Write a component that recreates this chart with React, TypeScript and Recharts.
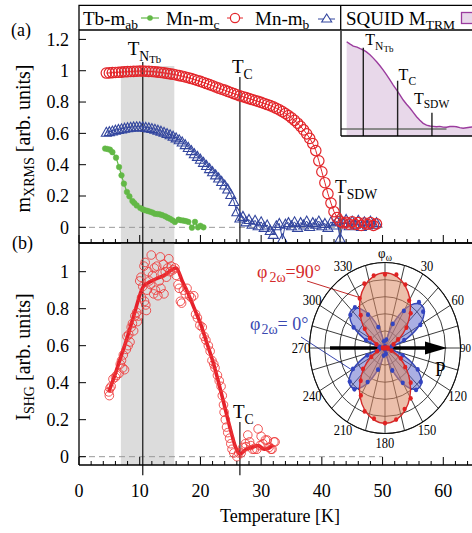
import React from 'react';
import {
  ComposedChart, Line, Scatter, XAxis, YAxis, ReferenceLine, ReferenceArea, Legend, Customized,
  AreaChart, Area, RadarChart, Radar, PolarGrid, PolarAngleAxis, PolarRadiusAxis,
} from 'recharts';

const FONT = '"Liberation Serif", "Times New Roman", Times, serif';
const RED = '#e3262b';
const RED_LIGHT = '#ee3a3a';
const BLUE = '#33469e';
const GREEN = '#62b846';
const PURPLE = '#9b3c9e';
const PURPLE_FILL = '#e8d8ea';
const SHADE = '#dcdcdc';
const FRAME = { stroke: '#000', strokeWidth: 1.3 };

// ---------- axis ticks ----------
const edgeTicks = [0, 2, 4, 6, 8, 10, 12, 14, 16, 18, 20, 22, 24, 26, 28, 30, 32, 34, 36, 38, 40, 42, 44, 46, 48, 50, 52, 54, 56, 58, 60, 62, 64, 66, 68, 70];
const tempLabelTicks = [0, 10, 20, 30, 40, 50, 60];
const xrmsYTicks = [0, 0.2, 0.4, 0.6, 0.8, 1, 1.2];
const shgYTicks = [0, 0.2, 0.4, 0.6, 0.8, 1];

// ---------- panel (a): XRMS ----------
const xrmsTemps = [
  4.5, 5, 5.5, 6, 6.5, 7, 7.5, 8, 8.5, 9, 9.5, 10, 10.5, 11, 11.5, 12, 12.5, 13, 13.5, 14,
  14.5, 15, 15.5, 16, 16.5, 17, 17.5, 18, 18.5, 19, 19.5, 20, 20.5, 21, 21.5, 22, 22.5, 23, 23.5, 24,
  24.5, 25, 25.5, 26, 26.5, 27, 27.5, 28, 28.5, 29, 29.5, 30, 30.5, 31, 31.5, 32, 32.5, 33, 33.5, 34,
  34.5, 35, 35.5, 36, 36.5, 37, 37.5, 38, 38.5, 39, 39.5, 40, 40.5, 41, 41.5, 42, 42.5, 43, 43.5, 44,
  44.5, 45, 45.5, 46, 46.5, 47, 47.5, 48, 48.5, 49,
];
const mnMcValues = [
  0.985, 0.986, 0.988, 0.989, 0.990, 0.991, 0.993, 0.994, 0.995, 0.996, 0.997, 0.998, 0.998, 0.997, 0.996, 0.995, 0.993, 0.991, 0.989, 0.986,
  0.983, 0.980, 0.977, 0.973, 0.969, 0.965, 0.960, 0.955, 0.950, 0.944, 0.938, 0.932, 0.925, 0.918, 0.911, 0.904, 0.896, 0.889, 0.882, 0.876,
  0.868, 0.861, 0.854, 0.847, 0.840, 0.834, 0.828, 0.822, 0.816, 0.810, 0.804, 0.798, 0.791, 0.784, 0.777, 0.769, 0.760, 0.750, 0.739, 0.727,
  0.714, 0.699, 0.683, 0.665, 0.645, 0.622, 0.597, 0.568, 0.535, 0.490, 0.425, 0.355, 0.285, 0.215, 0.155, 0.100, 0.062, 0.038, 0.028, 0.032,
  0.020, 0.035, 0.018, 0.030, 0.012, 0.028, 0.020, 0.030, 0.012, 0.022,
];
const mnMbValues = [
  0.607, 0.611, 0.615, 0.620, 0.625, 0.629, 0.633, 0.636, 0.639, 0.641, 0.642, 0.642, 0.641, 0.638, 0.635, 0.631, 0.626, 0.620, 0.614, 0.607,
  0.599, 0.591, 0.582, 0.571, 0.559, 0.545, 0.528, 0.510, 0.490, 0.470, 0.453, 0.435, 0.415, 0.395, 0.375, 0.355, 0.335, 0.315, 0.293, 0.270,
  0.245, 0.210, 0.165, 0.100, 0.060, 0.070, 0.035, 0.050, 0.020, 0.045, 0.010, 0.035, 0.000, 0.015, -0.020, -0.045, 0.010, 0.025, -0.075, 0.020,
  0.030, 0.010, 0.035, 0.000, 0.030, 0.015, 0.040, 0.005, 0.030, 0.020, 0.040, 0.010, 0.025, 0.000, 0.035, 0.015, 0.040, -0.070, 0.030, 0.050,
  0.010, 0.040, 0.020, 0.045, 0.005, 0.035, 0.015, 0.040, 0.020, 0.030,
];
const tbTemps = [4.3, 4.7, 5.1, 5.5, 6.1, 6.6, 7.0, 7.4, 7.9, 8.3, 8.8, 9.1, 9.5, 10.1, 10.5, 10.9, 11.3, 11.7, 12.1, 12.5, 12.9, 13.3, 13.7, 14.2, 14.6, 15.0, 15.4, 15.8, 16.4, 16.8, 17.2, 17.6, 18.0, 18.6, 19.1, 19.6, 20.0, 20.5];
const tbValues = [0.503, 0.500, 0.496, 0.480, 0.445, 0.385, 0.332, 0.279, 0.226, 0.198, 0.168, 0.155, 0.140, 0.123, 0.115, 0.109, 0.105, 0.100, 0.095, 0.087, 0.085, 0.083, 0.078, 0.070, 0.062, 0.055, 0.045, 0.034, 0.049, 0.045, 0.043, 0.040, 0.035, -0.002, 0.035, 0.000, 0.010, 0.000];

// ---------- SQUID inset ----------
const squidTemps = [2, 3.5, 5.2, 7, 8.5, 10, 11.5, 13.2, 14.8, 16.4, 18, 19.6, 21.2, 22.8, 24.4, 26, 27.6, 29.2, 30.8, 32.5, 34, 35.6, 37.2, 38.8, 40.4, 42, 43.6, 45.2, 46.8, 48.4, 50, 51.6, 53.2, 54.8, 56.4, 58, 59.6, 61.2, 63, 65, 67, 69];
const squidValues = [1.0, 0.975, 0.95, 0.937, 0.92, 0.905, 0.883, 0.85, 0.812, 0.77, 0.724, 0.675, 0.62, 0.562, 0.503, 0.447, 0.39, 0.332, 0.283, 0.237, 0.19, 0.141, 0.1, 0.065, 0.045, 0.034, 0.03, 0.026, 0.03, 0.022, 0.02, 0.028, 0.03, 0.026, 0.015, 0.008, 0.015, 0.02, 0.025, 0.022, 0.018, 0.02];

// ---------- panel (b): SHG ----------
const shgTemps = [
  4.9, 5.0, 5.1, 5.3, 5.6, 6.0, 6.2, 6.6, 6.8, 7.0, 7.2, 7.5, 7.3, 7.8, 8.1, 7.9, 8.2, 8.4, 8.6, 8.8, 9.0, 9.2, 9.5, 9.8, 9.6,
  10.0, 10.2, 10.3, 10.5, 10.7, 10.9, 10.8, 11.0, 11.1, 11.2, 11.4, 11.6, 11.8, 11.9, 12.1, 12.3, 12.4, 12.6, 12.8, 13.0, 13.2, 13.4, 13.5, 13.7, 13.9, 14.0, 14.2, 14.4, 14.6, 14.8, 15.0, 15.2, 15.5, 15.8, 16.0,
  16.3, 16.5, 16.7, 16.9, 17.2, 17.5, 17.8, 18.2, 18.5, 18.9, 19.2, 19.5, 19.9, 20.3, 20.6, 20.9, 21.3, 21.6, 21.9, 22.2, 22.4, 22.8, 23.1, 23.4, 23.6, 23.8, 23.9, 24.1, 24.3, 24.5, 24.8, 25.0, 25.2, 25.5,
  26.0, 26.3, 26.7, 27.0, 27.4, 27.5, 27.8, 28.1, 28.3, 28.6, 28.9, 29.3, 29.5, 29.8, 30.0, 30.3, 30.7, 31.0, 31.3, 31.6, 31.8, 32.1, 32.3,
];
const shgValues = [
  0.35, 0.33, 0.37, 0.38, 0.42, 0.43, 0.44, 0.45, 0.50, 0.52, 0.48, 0.47, 0.55, 0.58, 0.60, 0.65, 0.66, 0.62, 0.70, 0.72, 0.68, 0.76, 0.78, 0.76, 0.73,
  0.95, 0.97, 0.86, 0.92, 1.03, 1.05, 0.84, 0.82, 0.79, 0.90, 1.00, 0.95, 0.93, 1.09, 0.98, 0.88, 1.02, 0.90, 1.03, 0.87, 0.95, 1.08, 0.91, 0.99, 1.04, 0.88, 1.00, 0.97, 1.02, 1.07, 1.00, 1.03, 1.01, 1.02, 0.98,
  0.93, 0.91, 0.84, 0.83, 0.90, 0.88, 0.91, 0.87, 0.86, 0.87, 0.77, 0.75, 0.71, 0.70, 0.65, 0.63, 0.60, 0.57, 0.52, 0.50, 0.48, 0.44, 0.41, 0.38, 0.33, 0.28, 0.24, 0.20, 0.16, 0.13, 0.10, 0.07, 0.04, 0.02,
  0.00, 0.02, 0.02, 0.05, 0.07, 0.054, 0.117, 0.08, 0.06, 0.04, 0.04, 0.04, 0.15, 0.06, 0.11, 0.07, 0.09, 0.09, 0.05, 0.04, 0.04, 0.08, 0.08,
];
const fitTemps = [4.9, 6, 7, 8, 9, 10.6, 12, 14, 16, 17, 18, 19, 20, 21, 22, 23, 24, 25, 25.7, 26.5, 27.5, 28.5, 29.5, 30.5, 31.2, 32];
const fitValues = [0.35, 0.45, 0.55, 0.65, 0.76, 0.92, 0.95, 0.98, 1.02, 0.95, 0.88, 0.80, 0.72, 0.62, 0.52, 0.40, 0.27, 0.14, 0.06, 0.015, 0.04, 0.05, 0.06, 0.04, 0.045, 0.065];

// ---------- polar inset ----------
const polarAngles = [0, 10, 20, 30, 40, 50, 60, 70, 80, 90, 100, 110, 120, 130, 140, 150, 160, 170, 180, 190, 200, 210, 220, 230, 240, 250, 260, 270, 280, 290, 300, 310, 320, 330, 340, 350];
const redLobe = [0.88, 0.853, 0.777, 0.66, 0.516, 0.364, 0.22, 0.103, 0.027, 0, 0.027, 0.103, 0.22, 0.364, 0.516, 0.66, 0.777, 0.853, 0.88, 0.853, 0.777, 0.66, 0.516, 0.364, 0.22, 0.103, 0.027, 0, 0.027, 0.103, 0.22, 0.364, 0.516, 0.66, 0.777, 0.853];
const blueLobe = [0, 0.082, 0.289, 0.525, 0.679, 0.679, 0.525, 0.289, 0.082, 0, 0.076, 0.268, 0.488, 0.631, 0.631, 0.488, 0.268, 0.076, 0, 0.075, 0.264, 0.48, 0.621, 0.621, 0.48, 0.264, 0.075, 0, 0.074, 0.26, 0.473, 0.611, 0.611, 0.473, 0.26, 0.074];
const redPts = [0.86, 0.87, 0.79, 0.64, 0.53, 0.37, 0.20, 0.12, 0.03, 0.01, 0.04, 0.09, 0.24, 0.35, 0.53, 0.68, 0.76, 0.85, 0.88, 0.84, 0.79, 0.64, 0.50, 0.38, 0.21, 0.11, 0.02, 0, 0.03, 0.12, 0.23, 0.35, 0.50, 0.67, 0.80, 0.86];
const bluePts = [0.02, 0.10, 0.30, 0.50, 0.70, 0.66, 0.54, 0.27, 0.09, 0.01, 0.07, 0.25, 0.50, 0.62, 0.64, 0.47, 0.28, 0.07, 0.02, 0.09, 0.27, 0.46, 0.63, 0.61, 0.49, 0.25, 0.08, 0.01, 0.07, 0.27, 0.48, 0.60, 0.62, 0.45, 0.26, 0.08];
const spokeAngles = [0, 15, 30, 45, 60, 75, 90, 105, 120, 135, 150, 165, 180, 195, 210, 225, 240, 255, 270, 285, 300, 315, 330, 345];
const ringRadii = [15.1, 30.2, 45.3, 60.4, 75.5];

// ---------- assembled tables ----------
const mcData = xrmsTemps.map((t, i) => ({ t, v: mnMcValues[i] }));
const mbData = xrmsTemps.map((t, i) => ({ t, v: mnMbValues[i] }));
const tbData = tbTemps.map((t, i) => ({ t, v: tbValues[i] }));
const squidData = squidTemps.map((t, i) => ({ t, v: squidValues[i] }));
const shgData = shgTemps.map((t, i) => ({ t, v: shgValues[i] }));
const fitData = fitTemps.map((t, i) => ({ t, v: fitValues[i] }));
const polarData = polarAngles.map((a, i) => ({ angle: a, red: redLobe[i], blue: blueLobe[i], redPt: redPts[i], bluePt: bluePts[i] }));

// ---------- helpers ----------
const fmtTick = (v: number) => (v === 0 ? '0' : v === 1 ? '1' : v.toFixed(1));

const edgeTick = (dir: number, withLabels = false) => (p: any) => {
  const v = p.payload ? p.payload.value : 0;
  const major = Math.abs(v % 10) < 1e-6;
  const len = major ? 8 : 4;
  const showLabel = withLabels && tempLabelTicks.indexOf(v) >= 0;
  return (
    <g>
      <line x1={p.x} x2={p.x} y1={p.y} y2={p.y + dir * len} stroke="#000" strokeWidth={1} />
      {showLabel ? (
        <text x={p.x} y={p.y + 32} textAnchor="middle" fontFamily={FONT} fontSize={18} fill="#000">{v}</text>
      ) : null}
    </g>
  );
};

const leftTick = (p: any) => {
  const v = p.payload ? p.payload.value : 0;
  return (
    <g>
      <line x1={p.x + 10} x2={p.x + 17} y1={p.y} y2={p.y} stroke="#000" strokeWidth={1} />
      <text x={p.x} y={p.y} dy="0.35em" textAnchor="end" fontFamily={FONT} fontSize={18} fill="#000">{fmtTick(v)}</text>
    </g>
  );
};

function TText({ x, y, sub, subsub, size }: any) {
  return (
    <text x={x} y={y} fontFamily={FONT} fontSize={size} fill="#000">
      T<tspan fontSize={size * 0.72} dy={size * 0.3}>{sub}</tspan>
      {subsub ? <tspan fontSize={size * 0.56} dy={size * 0.14}>{subsub}</tspan> : null}
    </text>
  );
}

const tLabel = (dx: number, dy: number, sub: string, subsub: string | undefined, size: number) => (p: any) => {
  const vb = (p && p.viewBox) || {};
  return <TText x={(vb.x || 0) + dx} y={(vb.y || 0) + dy} sub={sub} subsub={subsub} size={size} />;
};

const triDot = (p: any) => {
  const { cx, cy, index } = p;
  if (cx == null || cy == null) return <g key={'t' + index} />;
  const s = 5;
  return (
    <path key={'t' + index} d={`M${cx},${cy - s} L${cx + s},${cy + s * 0.8} L${cx - s},${cy + s * 0.8} Z`}
      fill="none" stroke={BLUE} strokeWidth={1.1} />
  );
};

const LegendBox = () => (
  <svg width={510} height={32} style={{ display: 'block' }}>
    <path d="M79,30 L79,5.3 L510,5.3" fill="none" stroke="#000" strokeWidth={1.3} />
    <line x1={340.7} y1={5.3} x2={340.7} y2={30} stroke="#000" strokeWidth={1.3} />
    <text x={83} y={25} fontFamily={FONT} fontSize={19} fill="#000">Tb-m<tspan fontSize={13.5} dy={4}>ab</tspan></text>
    <line x1={141} y1={18} x2={159} y2={18} stroke={GREEN} strokeWidth={1.2} />
    <circle cx={150} cy={18} r={2.8} fill={GREEN} />
    <text x={166} y={25} fontFamily={FONT} fontSize={19} fill="#000">Mn-m<tspan fontSize={13.5} dy={4}>c</tspan></text>
    <line x1={227} y1={18} x2={243} y2={18} stroke={RED} strokeWidth={1} />
    <circle cx={235} cy={18} r={4.6} fill="#fff" stroke={RED} strokeWidth={1.2} />
    <text x={255} y={25} fontFamily={FONT} fontSize={19} fill="#000">Mn-m<tspan fontSize={13.5} dy={4}>b</tspan></text>
    <line x1={318} y1={19} x2={335} y2={19} stroke={BLUE} strokeWidth={1} />
    <path d="M326.7,14 L331.7,22 L321.7,22 Z" fill="#fff" stroke={BLUE} strokeWidth={1.1} />
    <text x={346} y={25} fontFamily={FONT} fontSize={19} fill="#000">SQUID M<tspan fontSize={13.5} dy={4}>TRM</tspan></text>
    <rect x={461.5} y={12.5} width={12} height={11} fill={PURPLE_FILL} stroke={PURPLE} strokeWidth={1.3} />
  </svg>
);

// ---------- panel (a) ----------
function TopPanel() {
  return (
    <ComposedChart width={510} height={533} margin={{ top: 30, right: 6, bottom: 290, left: 0 }}>
      <XAxis xAxisId="x" dataKey="t" type="number" domain={[0, 70]} allowDataOverflow ticks={edgeTicks} interval={0}
        orientation="bottom" mirror tickSize={0} tickMargin={0} tickLine={false} tick={edgeTick(-1)} axisLine={FRAME} />
      <XAxis xAxisId="xt" type="number" domain={[0, 70]} allowDataOverflow ticks={edgeTicks} interval={0}
        orientation="top" mirror tickSize={0} tickMargin={0} tickLine={false} tick={edgeTick(1)} axisLine={FRAME} />
      <YAxis yAxisId="y" type="number" domain={[-0.1, 1.26]} allowDataOverflow ticks={xrmsYTicks} interval={0} width={79}
        tickSize={0} tickMargin={10} tickLine={false} tick={leftTick} axisLine={FRAME} />
      <Legend verticalAlign="middle" align="center" layout="horizontal" content={LegendBox}
        wrapperStyle={{ position: 'absolute', left: 0, top: 0, width: 510, height: 32 }} />
      <ReferenceArea xAxisId="x" yAxisId="y" x1={6.9} x2={15.7} y1={-0.1} y2={1.03} fill={SHADE} fillOpacity={1} stroke="none" ifOverflow="visible" />
      <ReferenceLine xAxisId="x" yAxisId="y" segment={[{ x: 0, y: 0 }, { x: 50, y: 0 }]} stroke="#999" strokeDasharray="6 4" strokeWidth={1} ifOverflow="visible" />
      <ReferenceLine xAxisId="x" yAxisId="y" segment={[{ x: 10.5, y: -0.1 }, { x: 10.5, y: 1.056 }]} stroke="#222" strokeWidth={1.3} ifOverflow="visible"
        label={tLabel(-15, -7, 'N', 'Tb', 19)} />
      <ReferenceLine xAxisId="x" yAxisId="y" segment={[{ x: 26.5, y: -0.1 }, { x: 26.5, y: 0.96 }]} stroke="#222" strokeWidth={1.3} ifOverflow="visible"
        label={tLabel(-8, -4, 'C', undefined, 19)} />
      <ReferenceLine xAxisId="x" yAxisId="y" segment={[{ x: 43, y: -0.1 }, { x: 43, y: 0.205 }]} stroke="#222" strokeWidth={1.3} ifOverflow="visible"
        label={tLabel(-5, -2, 'SDW', undefined, 19)} />
      <Line xAxisId="x" yAxisId="y" data={tbData} dataKey="v" type="linear" stroke={GREEN} strokeWidth={1.2}
        dot={{ r: 2.8, fill: GREEN, stroke: GREEN, strokeWidth: 0.5 }} activeDot={false} isAnimationActive={false} />
      <Line xAxisId="x" yAxisId="y" data={mbData} dataKey="v" type="linear" stroke={BLUE} strokeWidth={1}
        dot={triDot} activeDot={false} isAnimationActive={false} />
      <Line xAxisId="x" yAxisId="y" data={mcData} dataKey="v" type="linear" stroke={RED} strokeWidth={1}
        dot={{ r: 5.2, fill: 'none', stroke: RED, strokeWidth: 1.2 }} activeDot={false} isAnimationActive={false} />
      <Customized component={() => (
        <g>
          <text x={11} y={36} fontFamily={FONT} fontSize={18} fill="#000">(a)</text>
          <text transform="rotate(-90)" x={-138.5} y={30} textAnchor="middle" fontFamily={FONT} fontSize={20} fill="#000">
            m<tspan fontSize={14} dy={4}>XRMS</tspan><tspan dy={-4}> [arb. units]</tspan>
          </text>
        </g>
      )} />
    </ComposedChart>
  );
}

// ---------- panel (b) ----------
function BottomPanel() {
  return (
    <ComposedChart width={510} height={533} margin={{ top: 243, right: 6, bottom: 68, left: 0 }}>
      <XAxis xAxisId="x" dataKey="t" type="number" domain={[0, 70]} allowDataOverflow ticks={edgeTicks} interval={0}
        orientation="bottom" mirror tickSize={0} tickMargin={0} tickLine={false} tick={edgeTick(-1, true)} axisLine={FRAME} />
      <XAxis xAxisId="xt" type="number" domain={[0, 70]} allowDataOverflow ticks={edgeTicks} interval={0}
        orientation="top" mirror tickSize={0} tickMargin={0} tickLine={false} tick={edgeTick(1)} axisLine={FRAME} />
      <YAxis yAxisId="y" dataKey="v" type="number" domain={[-0.045, 1.155]} allowDataOverflow ticks={shgYTicks} interval={0} width={79}
        tickSize={0} tickMargin={10} tickLine={false} tick={leftTick} axisLine={FRAME} />
      <ReferenceArea xAxisId="x" yAxisId="y" x1={6.9} x2={15.7} y1={-0.045} y2={1.155} fill={SHADE} fillOpacity={1} stroke="none" ifOverflow="visible" />
      <ReferenceLine xAxisId="x" yAxisId="y" segment={[{ x: 0, y: 0 }, { x: 50, y: 0 }]} stroke="#999" strokeDasharray="6 4" strokeWidth={1} ifOverflow="visible" />
      <ReferenceLine xAxisId="x" yAxisId="y" segment={[{ x: 10.5, y: -0.1 }, { x: 10.5, y: 1.155 }]} stroke="#222" strokeWidth={1.3} ifOverflow="visible" />
      <ReferenceLine xAxisId="x" yAxisId="y" segment={[{ x: 26.5, y: -0.1 }, { x: 26.5, y: 0.188 }]} stroke="#222" strokeWidth={1.3} ifOverflow="visible"
        label={tLabel(-7, -4, 'C', undefined, 19)} />
      <Scatter xAxisId="x" yAxisId="y" data={shgData} dataKey="v" isAnimationActive={false}
        shape={(p: any) => <circle cx={p.cx} cy={p.cy} r={4.3} fill="none" stroke={RED_LIGHT} strokeOpacity={0.85} strokeWidth={1} />} />
      <Line xAxisId="x" yAxisId="y" data={fitData} dataKey="v" type="monotone" stroke="#e5202a" strokeWidth={3.6}
        dot={false} activeDot={false} isAnimationActive={false} />
      <Customized component={() => (
        <g>
          <text x={12} y={248.5} fontFamily={FONT} fontSize={18} fill="#000">(b)</text>
          <text transform="rotate(-90)" x={-357} y={30} textAnchor="middle" fontFamily={FONT} fontSize={20} fill="#000">
            I<tspan fontSize={14} dy={4}>SHG</tspan><tspan dy={-4}> [arb. units]</tspan>
          </text>
          <text x={280} y={522} textAnchor="middle" fontFamily={FONT} fontSize={18} fill="#000">Temperature [K]</text>
          <text x={257} y={278} fontFamily={FONT} fontSize={18} fill="#d42a2a">φ<tspan fontSize={14} dx={2} dy={4}>2ω</tspan><tspan dy={-4}>=90°</tspan></text>
          <line x1={307} y1={281} x2={361} y2={298} stroke="#c42a2a" strokeWidth={1} />
          <text x={250} y={330} fontFamily={FONT} fontSize={18} fill="#3a48b0">φ<tspan fontSize={14} dx={1} dy={4}>2ω</tspan><tspan dy={-4}>= 0°</tspan></text>
          <line x1={301} y1={337} x2={352} y2={370} stroke="#3a48b0" strokeWidth={1} />
        </g>
      )} />
    </ComposedChart>
  );
}

// ---------- SQUID inset ----------
function SquidInset() {
  return (
    <AreaChart width={170} height={106} data={squidData} margin={{ top: 0, right: 0, bottom: 1, left: 1 }}>
      <XAxis dataKey="t" type="number" domain={[-0.72, 80.53]} allowDataOverflow orientation="bottom" mirror
        tick={false} tickLine={false} axisLine={FRAME} />
      <YAxis type="number" domain={[-0.0802, 1.1226]} allowDataOverflow mirror tick={false} tickLine={false} axisLine={FRAME} />
      <Area dataKey="v" type="linear" stroke={PURPLE} strokeWidth={1.4} fill={PURPLE_FILL} fillOpacity={1}
        baseValue="dataMin" dot={false} activeDot={false} isAnimationActive={false} />
      <ReferenceLine segment={[{ x: -0.72, y: 0 }, { x: 50, y: 0 }]} stroke="#8a8a8a" strokeWidth={2} ifOverflow="visible" />
      <ReferenceLine segment={[{ x: 10, y: -0.0802 }, { x: 10, y: 0.93 }]} stroke="#222" strokeWidth={1.4} ifOverflow="visible"
        label={tLabel(2, -3, 'N', 'Tb', 16)} />
      <ReferenceLine segment={[{ x: 26.5, y: -0.0802 }, { x: 26.5, y: 0.553 }]} stroke="#222" strokeWidth={1.4} ifOverflow="visible"
        label={tLabel(1, -1, 'C', undefined, 16)} />
      <ReferenceLine segment={[{ x: 43, y: -0.0802 }, { x: 43, y: 0.187 }]} stroke="#222" strokeWidth={1.4} ifOverflow="visible"
        label={tLabel(-18, -9, 'SDW', undefined, 16)} />
    </AreaChart>
  );
}

// ---------- polar inset ----------
function smoothClosed(pts: any[]) {
  const n = pts.length;
  if (!n) return '';
  let d = `M${pts[0].x},${pts[0].y}`;
  for (let i = 0; i < n; i++) {
    const p0 = pts[(i - 1 + n) % n], p1 = pts[i], p2 = pts[(i + 1) % n], p3 = pts[(i + 2) % n];
    const c1x = p1.x + (p2.x - p0.x) / 6, c1y = p1.y + (p2.y - p0.y) / 6;
    const c2x = p2.x - (p3.x - p1.x) / 6, c2y = p2.y - (p3.y - p1.y) / 6;
    d += ` C${c1x},${c1y} ${c2x},${c2y} ${p2.x},${p2.y}`;
  }
  return d + ' Z';
}

const lobeShape = (fill: string, opacity: number, stroke: string) => (props: any) => (
  <path d={smoothClosed(props.points || [])} fill={fill} fillOpacity={opacity} stroke={stroke} strokeWidth={1.4} />
);

const dotShape = (color: string) => (props: any) => (
  <g>
    {(props.points || []).map((pt: any, i: number) => (
      <circle key={i} cx={pt.x} cy={pt.y} r={2.1} fill={color} />
    ))}
  </g>
);

const PolarTick = (p: any) => {
  const v = Number(p.payload ? p.payload.value : 0);
  if (v % 30 !== 0) return <g />;
  const cx = p.cx ?? 100, cy = p.cy ?? 100;
  const rad = (v * Math.PI) / 180;
  const R = 84;
  const x = cx + R * Math.sin(rad), y = cy - R * Math.cos(rad);
  if (v === 0) {
    return (
      <text x={x} y={y} dy="0.35em" textAnchor="middle" fontFamily={FONT} fontSize={13} fill="#000">
        φ<tspan fontSize={9.5} dy={3}>ω</tspan>
      </text>
    );
  }
  if (v === 90) {
    // kept fully inside the picture's right edge
    return <text x={cx + 86} y={y} dy="0.35em" textAnchor="end" fontFamily={FONT} fontSize={11} fill="#000">{v}</text>;
  }
  return <text x={x} y={y} dy="0.35em" textAnchor="middle" fontFamily={FONT} fontSize={12.5} fill="#000">{v}</text>;
};

const ArrowLayer = () => (
  <g>
    <line x1={45} y1={100} x2={143} y2={100} stroke="#000" strokeWidth={3.2} />
    <polygon points="140,94.2 162,100 140,105.8" fill="#000" />
    <text x={150} y={125} fontFamily={FONT} fontSize={19} fill="#000">P</text>
  </g>
);

function PolarInset() {
  return (
    <RadarChart width={200} height={200} cx={100} cy={100} outerRadius={75.5} data={polarData}
      margin={{ top: 0, right: 0, bottom: 0, left: 0 }}>
      <PolarGrid gridType="circle" polarRadius={ringRadii} polarAngles={spokeAngles} stroke="#1a1a1a" strokeWidth={0.8} strokeOpacity={1} />
      <PolarAngleAxis dataKey="angle" tick={PolarTick} tickLine={false} axisLine={{ stroke: '#111', strokeWidth: 1 }} axisLineType="circle" />
      <PolarRadiusAxis domain={[0, 1]} tick={false} axisLine={false} allowDataOverflow />
      <Radar dataKey="blue" shape={lobeShape('#5560c8', 0.5, '#3344b5')} isAnimationActive={false} />
      <Radar dataKey="red" shape={lobeShape('#dc8a66', 0.55, '#d42a2a')} isAnimationActive={false} />
      <Radar dataKey="bluePt" shape={dotShape('#3344c0')} isAnimationActive={false} />
      <Radar dataKey="redPt" shape={dotShape('#e02222')} isAnimationActive={false} />
      <Customized component={ArrowLayer} />
    </RadarChart>
  );
}

export default function App() {
  return (
    <div style={{ position: 'absolute', left: 0, top: 0, width: 472, height: 533, overflow: 'hidden', background: '#fff' }}>
      <div style={{ position: 'absolute', left: 0, top: 0 }}><TopPanel /></div>
      <div style={{ position: 'absolute', left: 0, top: 0 }}><BottomPanel /></div>
      <div style={{ position: 'absolute', left: 340, top: 31, width: 170, height: 106, background: '#fff' }}><SquidInset /></div>
      <div style={{ position: 'absolute', left: 285, top: 248.3, width: 200, height: 200, transform: 'scaleY(1.1325)', transformOrigin: '100px 100px' }}>
        <PolarInset />
      </div>
    </div>
  );
}
